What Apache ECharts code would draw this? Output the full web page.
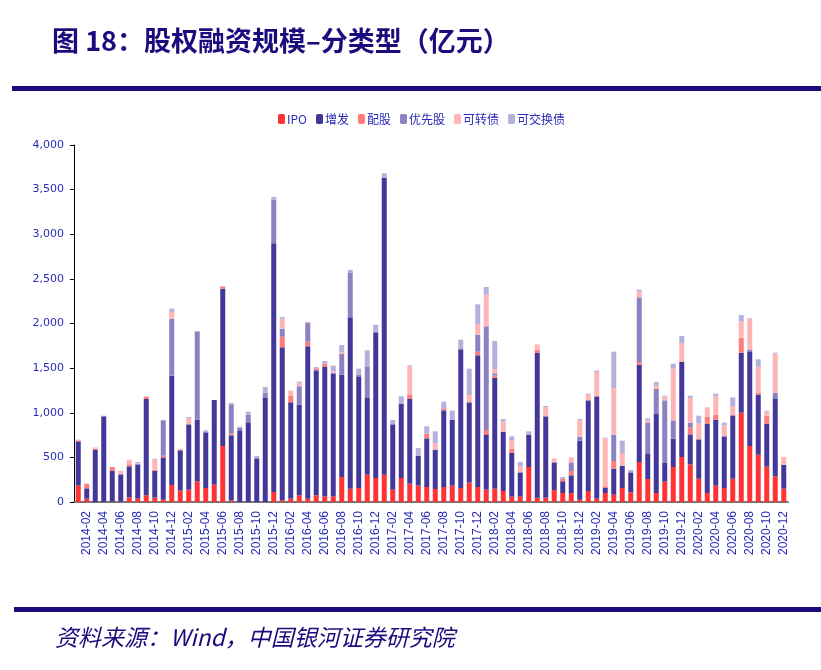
<!DOCTYPE html>
<html>
<head>
<meta charset="utf-8">
<script src="https://cdn.jsdelivr.net/npm/echarts@6/dist/echarts.min.js"></script>
<style>
  html, body { margin: 0; padding: 0; background: #fff; }
  #chart { width: 821px; height: 670px; }
</style>
</head>
<body>
<div id="chart"></div>
<script>
// 月份 2014-01 ~ 2020-12
const months = []
for (let y = 2014; y <= 2020; y++) {
  for (let m = 1; m <= 12; m++) {
    months.push(y + '-' + (m < 10 ? '0' + m : m))
  }
}

const yTicks = [0, 500, 1000, 1500, 2000, 2500, 3000, 3500, 4000]

// 单位：亿元
const ipo = [183, 37, 0, 0, 5, 5, 52, 37, 75, 49, 26, 190,
  127, 138, 232, 157, 194, 627, 15, 0, 0, 0, 0, 112,
  20, 37, 75, 37, 75, 64, 64, 280, 149, 157, 306, 269,
  306, 138, 269, 205, 183, 168, 146, 168, 183, 157, 217, 168,
  138, 149, 123, 60, 60, 392, 49, 49, 134, 101, 97, 26,
  123, 37, 101, 82, 157, 108, 448, 258, 101, 228, 392, 504,
  422, 261, 101, 183, 157, 261, 1001, 627, 530, 396, 288, 149]
const zengfa = [497, 116, 586, 960, 342, 305, 348, 385, 1079, 302, 474, 1226,
  452, 732, 690, 624, 949, 1763, 732, 803, 893, 489, 1165, 2786,
  1713, 1080, 1016, 1707, 1400, 1449, 1378, 1147, 1920, 1251, 859, 1632,
  3324, 732, 833, 949, 336, 545, 440, 859, 739, 1554, 900, 1475,
  620, 1244, 665, 493, 272, 362, 1621, 911, 310, 131, 202, 661,
  1016, 1147, 56, 292, 250, 224, 1091, 287, 892, 216, 318, 1068,
  336, 441, 777, 739, 579, 710, 672, 1061, 673, 482, 874, 269]
const peigu = [10, 52, 12, 0, 45, 0, 22, 0, 26, 11, 19, 0,
  0, 0, 0, 0, 0, 26, 23, 0, 0, 0, 0, 0,
  120, 74, 0, 53, 23, 37, 0, 0, 0, 0, 0, 0,
  0, 0, 0, 45, 0, 53, 0, 23, 0, 0, 0, 41,
  49, 23, 0, 45, 0, 0, 37, 0, 0, 26, 48, 0,
  0, 0, 19, 85, 0, 0, 30, 0, 0, 0, 0, 0,
  79, 0, 78, 57, 0, 0, 168, 0, 22, 89, 0, 0]
const youxiangu = [0, 0, 0, 0, 0, 0, 0, 0, 0, 0, 396, 638,
  0, 0, 983, 0, 0, 0, 324, 30, 86, 0, 60, 490,
  89, 0, 205, 212, 0, 0, 0, 231, 504, 19, 355, 0,
  0, 0, 0, 0, 0, 0, 0, 0, 0, 0, 0, 191,
  1161, 26, 0, 0, 0, 0, 0, 0, 0, 0, 97, 45,
  0, 0, 0, 295, 0, 0, 724, 344, 277, 695, 205, 0,
  52, 0, 0, 0, 0, 0, 0, 19, 0, 0, 59, 0]
const kezhuanzhai = [10, 0, 14, 0, 0, 41, 52, 10, 0, 112, 0, 75,
  19, 70, 0, 0, 0, 0, 0, 0, 0, 0, 0, 0,
  112, 56, 37, 11, 0, 0, 22, 19, 0, 0, 0, 0,
  0, 0, 0, 321, 0, 0, 75, 0, 0, 0, 82, 112,
  355, 48, 112, 89, 68, 0, 60, 104, 45, 0, 56, 183,
  64, 273, 537, 523, 142, 0, 71, 26, 33, 41, 579, 210,
  276, 179, 105, 205, 123, 101, 183, 343, 291, 45, 441, 86]
const kejiaohuanzhai = [0, 0, 0, 7, 0, 0, 0, 16, 0, 11, 5, 37,
  0, 12, 11, 22, 0, 0, 15, 11, 33, 26, 64, 30,
  19, 0, 15, 0, 15, 30, 64, 82, 27, 67, 179, 86,
  53, 49, 82, 11, 86, 82, 131, 74, 101, 108, 295, 228,
  86, 314, 30, 49, 48, 38, 0, 12, 0, 22, 0, 15,
  11, 15, 8, 407, 138, 27, 15, 22, 42, 11, 56, 78,
  26, 86, 0, 30, 30, 101, 71, 8, 83, 11, 11, 0]

const navy = '#1B0C7E'
const labelBlue = '#2A2AB8'

const chart = echarts.init(document.getElementById('chart'))

const makeBar = (name, data, color) => ({
  name,
  type: 'bar',
  stack: 'total',
  barWidth: 5,
  data,
  itemStyle: { color },
})

const options = {
  animation: false,
  title: [
    {
      text: '图 18：股权融资规模–分类型（亿元）',
      left: 47,
      top: 22,
      textStyle: {
        fontFamily: 'Noto Sans CJK SC',
        fontSize: 27,
        fontWeight: 'bold',
        color: navy,
      },
    },
    {
      text: '资料来源：Wind，中国银河证券研究院',
      left: 50,
      top: 621,
      textStyle: {
        fontFamily: 'Noto Sans CJK SC',
        fontSize: 23,
        fontWeight: 'normal',
        fontStyle: 'italic',
        color: navy,
      },
    },
  ],
  graphic: [
    { type: 'rect', shape: { x: 12, y: 86, width: 809, height: 5 }, style: { fill: navy } },
    { type: 'rect', shape: { x: 14, y: 607, width: 807, height: 5 }, style: { fill: navy } },
  ],
  legend: {
    top: 108,
    left: 273,
    itemWidth: 7,
    itemHeight: 10,
    itemGap: 9,
    textStyle: {
      fontFamily: 'Noto Sans CJK SC',
      fontSize: 12,
      color: labelBlue,
      padding: [0, 0, 0, -3],
    },
    data: ['IPO', '增发', '配股', '优先股', '可转债', '可交换债'],
  },
  grid: {
    left: 74,
    right: 33,
    top: 145,
    bottom: 168,
  },
  xAxis: {
    type: 'category',
    data: months,
    axisLine: { lineStyle: { color: '#777', width: 2 } },
    axisTick: {
      interval: 0,
      length: 4,
      lineStyle: { color: '#333' },
    },
    axisLabel: {
      interval: (index) => index % 2 === 1,
      rotate: 90,
      fontFamily: 'Arial, Liberation Sans',
      fontSize: 12,
      color: labelBlue,
      margin: 9,
    },
  },
  yAxis: {
    type: 'value',
    min: yTicks[0],
    max: yTicks[yTicks.length - 1],
    interval: 500,
    axisLine: { show: true, lineStyle: { color: '#000' } },
    axisTick: { show: true, length: 4, lineStyle: { color: '#000' } },
    splitLine: { show: false },
    axisLabel: {
      formatter: (v) => v.toLocaleString('en-US'),
      fontFamily: 'Verdana, DejaVu Sans',
      fontSize: 11,
      color: labelBlue,
      margin: 10,
    },
  },
  series: [
    makeBar('IPO', ipo, '#FF3333'),
    makeBar('增发', zengfa, '#43389A'),
    makeBar('配股', peigu, '#FF7C7C'),
    makeBar('优先股', youxiangu, '#8C82C2'),
    makeBar('可转债', kezhuanzhai, '#FFB5B5'),
    makeBar('可交换债', kejiaohuanzhai, '#B6B0DC'),
  ],
}

chart.setOption(options, true)
</script>
</body>
</html>
